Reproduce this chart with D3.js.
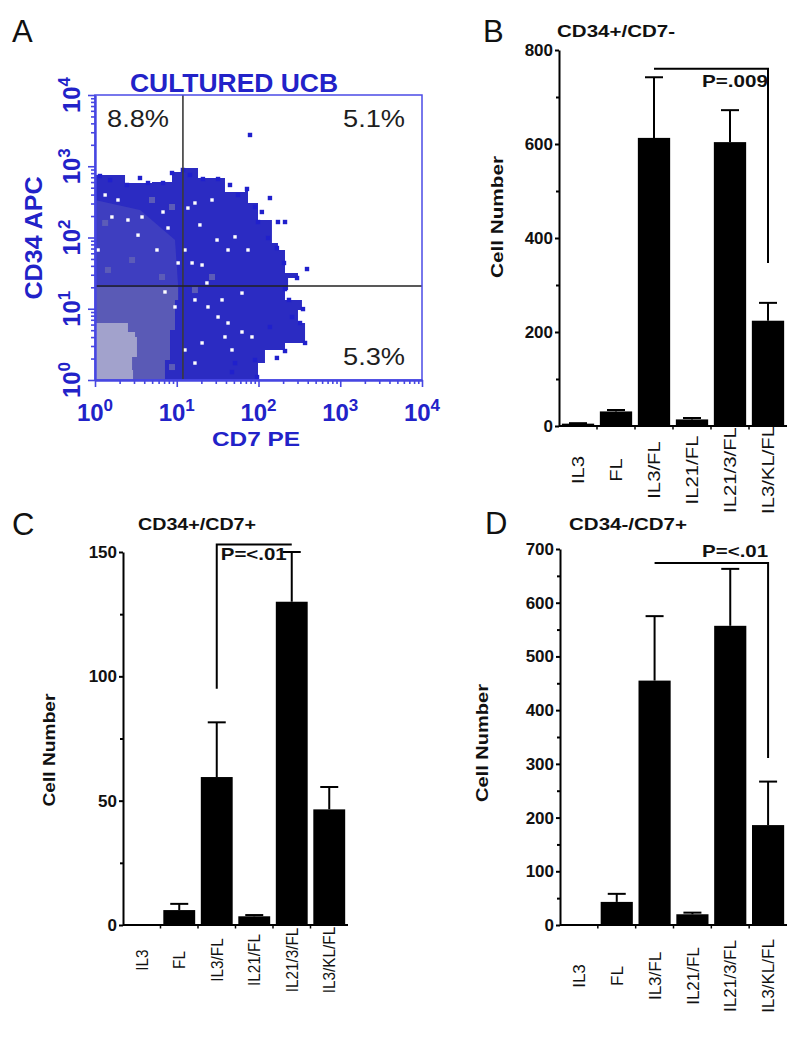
<!DOCTYPE html>
<html><head><meta charset="utf-8">
<script src="https://cdn.jsdelivr.net/npm/d3@7"></script>
<style>body{margin:0;background:#fff} svg{display:block}</style>
</head><body><svg id="c" width="800" height="1045"></svg>
<script>
// ---------------- DATA ----------------
// Panel A (flow cytometry, CD7 PE vs CD34 APC), values in fluorescence units
const flowDecades = [1, 10, 100, 1000, 10000];
const quadrantGate = [11.9, 20.9];           // CD7 gate, CD34 gate
const quadrantLabels = ["8.8%", "5.1%", "5.3%"];
const denseRegion = [[1,753],[2.33,582],[4.98,601],[8.75,830],[11.9,944],[18.2,684],[32,684],[38.9,435],[68.4,495],[74.4,305],[98.6,176],[146,160],[146,83.7],[173,66.8],[211,31.8],[304,27],[230,18.3],[211,13.3],[340,9.6],[304,6.3],[371,3.3],[211,2.64],[120,1.73],[98.6,1.1],[98.6,1],[1,1]];
const midOverlay = [[1,336],[3.55,243],[9.52,92.2],[10.4,20.9],[1,20.9]];
const midRegion = [[1,20.2],[7.18,20.2],[10.4,13.3],[9.52,5.03],[8.27,1.91],[7.18,1],[1,1]];
const coreRegion = [[1,6.31],[1.91,6.31],[2.53,4.72],[3.09,4.02],[3.26,2.1],[2.84,1.38],[2.92,1],[1,1]];
const outlierEvents = [[8.75,804],[11.9,886],[20.9,662],[32,662],[2.46,546],[4.45,582],[6.79,582],[72.3,480],[138,358],[98.6,165],[173,165],[211,165],[131,98.4],[168,71.2],[205,43.9],[392,36.1],[296,27],[211,18.9],[236,13.3],[350,9.9],[257,7.66],[322,6.31],[138,5.55],[371,3.31],[211,2.55],[168,2.04],[90.6,1.91],[51.6,1.73],[95.9,1.1],[47.4,1.29],[78.7,2748],[1.15,730],[1.53,641],[3.55,684],[14.5,753],[44.8,546],[56.1,395],[90.6,268],[110,228]];
const emptyBins = [[2.53,176],[3.36,108],[5.73,66.8],[12.6,66.8],[15.4,43.9],[20.4,41.1],[10.4,43.9],[7.18,17.2],[16.7,13.3],[24.1,10.6],[42.4,6.31],[62.8,4.72],[35.8,13.3],[1.09,66.8],[1.61,194],[27,336],[16.7,305],[51.6,102],[74.4,66.8],[12.6,2.64],[38.9,4.02],[7.82,136],[1.33,395],[1.91,336],[3.76,194],[6.79,228],[13.7,259],[19.2,150],[31.1,92.2],[42.4,66.8],[23.4,23],[62.8,16.6],[32,7.66],[83.2,4.02],[20.4,3.31],[16.7,1.73],[47.4,2.64],[9.52,10.6]];
const midBins = [[1.44,35],[2.84,48.3],[6.6,27.9],[8.75,268],[1.33,160],[4.98,336],[16.7,18.3],[27,27.9],[2.33,9.6],[5.42,2.64],[8.75,1.52]];

// Bar panels
const categories = ["IL3", "FL", "IL3/FL", "IL21/FL", "IL21/3/FL", "IL3/KL/FL"];
const cd34posCd7negMean = [5, 31, 613, 14, 604, 224];
const cd34posCd7negSem  = [1, 3, 129, 3, 68, 38];
const cd34posCd7posMean = [0, 6, 59.5, 3.5, 130, 46.5];
const cd34posCd7posSem  = [0, 2.5, 22, 0.5, 20, 9];
const cd34negCd7posMean = [0, 43, 455, 20, 557, 186];
const cd34negCd7posSem  = [0, 15, 120, 3, 106, 81];
const ticksB = [0, 200, 400, 600, 800], minorB = [100, 300, 500, 700];
const ticksC = [0, 50, 100, 150], minorC = [25, 75, 125];
const ticksD = [0, 100, 200, 300, 400, 500, 600, 700], minorD = [50, 150, 250, 350, 450, 550, 650];
const sigPairB = ["IL3/FL", "IL3/KL/FL"], sigLevelsB = [760, 760, 347], pTextB = "P=.009", pLevelB = 721;
const sigPairC = ["IL3/FL", "IL21/3/FL"], sigLevelsC = [95, 153, 153], pTextC = "P=<.01", pLevelC = 146.8;
const sigPairD = ["IL3/FL", "IL3/KL/FL"], sigLevelsD = [674, 674, 311], pTextD = "P=<.01", pLevelD = 686;

// ---------------- DRAWING ----------------
const FONT = '"Liberation Sans", Arial, Helvetica, sans-serif';
const BLUE = "#2222c8";
const svg = d3.select("#c");

// panel letters
[["A",12,42],["B",483,42],["C",12,535],["D",485,534]].forEach(([t,x,y]) => {
  svg.append("text").attr("x",x).attr("y",y).text(t)
    .attr("font-family",FONT).attr("font-size",31).attr("fill","#111");
});

// ---------- Panel A ----------
(function(){
  const ax = d3.scaleLog().domain([1,1e4]).range([95,422]);
  const ay = d3.scaleLog().domain([1,1e4]).range([380,95]);
  const g = svg.append("g");
  g.append("clipPath").attr("id","clipA").append("rect")
    .attr("x",95).attr("y",95).attr("width",327).attr("height",285);
  const plot = g.append("g").attr("clip-path","url(#clipA)");
  const step = d3.line().x(d=>ax(d[0])).y(d=>ay(d[1])).curve(d3.curveStepAfter);
  const line = d3.line().x(d=>ax(d[0])).y(d=>ay(d[1]));
  plot.append("path").attr("d", step(denseRegion)+"Z").attr("fill","#2b2bc2");
  plot.append("path").attr("d", line(midOverlay)+"Z").attr("fill","#7070bb").attr("opacity",0.28);
  plot.selectAll("rect.mid").data(midBins).join("rect").attr("class","mid")
    .attr("x",d=>ax(d[0])-3).attr("y",d=>ay(d[1])-3).attr("width",6).attr("height",6).attr("fill","#5c5cb8");
  plot.append("path").attr("d", step(midRegion)+"Z").attr("fill","#5a5ab6");
  plot.append("path").attr("d", step(coreRegion)+"Z").attr("fill","#a2a2cc");
  plot.selectAll("rect.gap").data(emptyBins).join("rect").attr("class","gap")
    .attr("x",d=>ax(d[0])-1.7).attr("y",d=>ay(d[1])-1.7).attr("width",3.4).attr("height",3.4).attr("fill","#fff");
  plot.selectAll("rect.ev").data(outlierEvents).join("rect").attr("class","ev")
    .attr("x",d=>ax(d[0])-2.2).attr("y",d=>ay(d[1])-2.2).attr("width",4.4).attr("height",4.4).attr("fill","#2020cc");
  // quadrant lines
  g.append("line").attr("x1",ax(quadrantGate[0])).attr("x2",ax(quadrantGate[0]))
    .attr("y1",ay(1e4)).attr("y2",ay(1)).attr("stroke","#3a3a3a").attr("stroke-width",1.6);
  g.append("line").attr("x1",ax(1)).attr("x2",ax(1e4))
    .attr("y1",ay(quadrantGate[1])).attr("y2",ay(quadrantGate[1])).attr("stroke","#222").attr("stroke-width",1.6);
  // box
  g.append("rect").attr("x",95).attr("y",95).attr("width",327).attr("height",285)
    .attr("fill","none").attr("stroke","#4b4be6").attr("stroke-width",1.5);
  // axes
  const xa = g.append("g").attr("transform","translate(0,380)");
  xa.call(d3.axisBottom(ax).tickValues(flowDecades).tickSize(7).tickSizeOuter(0).tickFormat(""));
  xa.call(g2=>g2.append("g").call(d3.axisBottom(ax).tickValues(ax.ticks().filter(v=>!flowDecades.includes(v))).tickSize(4).tickFormat("")).select(".domain").remove());
  xa.selectAll("path,line").attr("stroke","#4646e2").attr("stroke-width",1.6);
  xa.select(".domain").attr("stroke-width",2.4);
  const ya = g.append("g").attr("transform","translate(95,0)");
  ya.call(d3.axisLeft(ay).tickValues(flowDecades).tickSize(7).tickSizeOuter(0).tickFormat(""));
  ya.call(g2=>g2.append("g").call(d3.axisLeft(ay).tickValues(ay.ticks().filter(v=>!flowDecades.includes(v))).tickSize(4).tickFormat("")).select(".domain").remove());
  ya.selectAll("path,line").attr("stroke","#4646e2").attr("stroke-width",1.6);
  ya.select(".domain").attr("stroke-width",2.4);
  // tick labels
  flowDecades.forEach(v => {
    const e = Math.round(Math.log10(v));
    const t = g.append("text").attr("x",ax(v)).attr("y",421).attr("text-anchor","middle")
      .attr("font-family",FONT).attr("font-weight","bold").attr("font-size",24).attr("fill",BLUE);
    t.append("tspan").text("10");
    t.append("tspan").attr("dy",-10).attr("font-size",17).text(e);
    const t2 = g.append("text").attr("transform",`translate(80,${ay(v)}) rotate(-90)`).attr("text-anchor","middle")
      .attr("font-family",FONT).attr("font-weight","bold").attr("font-size",24).attr("fill",BLUE);
    t2.append("tspan").text("10");
    t2.append("tspan").attr("dy",-10).attr("font-size",17).text(e);
  });
  g.append("text").attr("x",256).attr("y",446).attr("text-anchor","middle").text("CD7 PE")
    .attr("font-family",FONT).attr("font-weight","bold").attr("font-size",21).attr("fill",BLUE)
    .attr("textLength",88).attr("lengthAdjust","spacingAndGlyphs");
  g.append("text").attr("transform","translate(42,238) rotate(-90)").attr("text-anchor","middle").text("CD34 APC")
    .attr("font-family",FONT).attr("font-weight","bold").attr("font-size",23).attr("fill",BLUE)
    .attr("textLength",123).attr("lengthAdjust","spacingAndGlyphs");
  g.append("text").attr("x",234).attr("y",92).attr("text-anchor","middle").text("CULTURED UCB")
    .attr("font-family",FONT).attr("font-weight","bold").attr("font-size",25).attr("fill",BLUE)
    .attr("textLength",208).attr("lengthAdjust","spacingAndGlyphs");
  [[107,127],[343,127],[343,365]].forEach(([x,y],i) => {
    g.append("text").attr("x",x).attr("y",y).text(quadrantLabels[i])
      .attr("font-family",FONT).attr("font-size",24).attr("fill","#1e1e1e")
      .attr("textLength",62).attr("lengthAdjust","spacingAndGlyphs");
  });
})();

// ---------- Bar panels ----------
function barPanel(p) {
  const x = d3.scaleBand().domain(categories).range([p.x0,p.x1]).paddingInner(0.15).paddingOuter(0.075);
  const y = d3.scaleLinear().domain([0,p.max]).range([p.yb,p.yt]);
  const g = svg.append("g");
  const cx = c => x(c) + x.bandwidth()/2;
  g.selectAll("rect.bar").data(p.means).join("rect").attr("class","bar")
    .attr("x",(d,i)=>x(categories[i])).attr("width",x.bandwidth())
    .attr("y",d=>y(d)).attr("height",d=>y(0)-y(d)).attr("fill","#000");
  const eb = g.selectAll("g.eb").data(p.means.map((m,i)=>({m,e:p.sems[i],c:categories[i]})).filter(d=>d.m>0)).join("g");
  eb.append("line").attr("x1",d=>cx(d.c)).attr("x2",d=>cx(d.c)).attr("y1",d=>y(d.m)).attr("y2",d=>y(d.m+d.e))
    .attr("stroke","#000").attr("stroke-width",2);
  eb.append("line").attr("x1",d=>cx(d.c)-9).attr("x2",d=>cx(d.c)+9).attr("y1",d=>y(d.m+d.e)).attr("y2",d=>y(d.m+d.e))
    .attr("stroke","#000").attr("stroke-width",2);
  // y axis
  const ya = g.append("g").attr("transform",`translate(${p.x0},0)`)
    .call(d3.axisLeft(y).tickValues(p.ticks).tickSize(4).tickSizeOuter(0).tickPadding(2).tickFormat(d3.format("d")));
  ya.call(g2=>g2.append("g").call(d3.axisLeft(y).tickValues(p.minor).tickSize(3).tickFormat("")).select(".domain").remove());
  ya.selectAll("path,line").attr("stroke","#000").attr("stroke-width",2);
  ya.selectAll("text").attr("font-family",FONT).attr("font-weight","bold").attr("font-size",17).attr("fill","#111");
  // x axis
  g.append("line").attr("x1",p.x0).attr("x2",p.x1).attr("y1",y(0)).attr("y2",y(0)).attr("stroke","#000").attr("stroke-width",2);
  const st = x.step();
  g.selectAll("line.bt").data(categories.slice(1)).join("line").attr("class","bt")
    .attr("x1",c=>x(c)-st*0.075).attr("x2",c=>x(c)-st*0.075).attr("y1",y(0)).attr("y2",y(0)+3.5)
    .attr("stroke","#000").attr("stroke-width",1.5);
  // category labels
  categories.forEach(c => {
    g.append("text").attr("transform",`translate(${cx(c)},${p.labY}) scale(1,${p.labSy}) rotate(-90)`)
      .attr("text-anchor","middle").attr("dy","0.36em").text(c)
      .attr("font-family",FONT).attr("font-size",p.labFs).attr("fill","#111");
  });
  // axis title & panel title
  g.append("text").attr("transform",`translate(${p.ylabX},${p.ylabY}) rotate(-90)`).attr("text-anchor","middle").text("Cell Number")
    .attr("font-family",FONT).attr("font-weight","bold").attr("font-size",17).attr("fill","#111")
    .attr("textLength",p.ylabLen).attr("lengthAdjust","spacingAndGlyphs");
  g.append("text").attr("x",p.titleX).attr("y",p.titleY).text(p.title)
    .attr("font-family",FONT).attr("font-weight","bold").attr("font-size",16).attr("fill","#111")
    .attr("textLength",118).attr("lengthAdjust","spacingAndGlyphs");
  // significance bracket
  const [a,b] = p.sig, [l0,top,r0] = p.sigLevels;
  const path = d3.path();
  path.moveTo(cx(a), y(l0)); path.lineTo(cx(a), y(top)); path.lineTo(cx(b), y(top)); path.lineTo(cx(b), y(r0));
  g.append("path").attr("d",path.toString()).attr("fill","none").attr("stroke","#000").attr("stroke-width",2);
  const tx = p.pAnchor === "end" ? cx(b) : cx(a) + 4;
  g.append("text").attr("x",tx).attr("y",y(p.pLevel)).attr("text-anchor",p.pAnchor).text(p.pText)
    .attr("font-family",FONT).attr("font-weight","bold").attr("font-size",17).attr("fill","#111")
    .attr("textLength",66).attr("lengthAdjust","spacingAndGlyphs");
}

barPanel({x0:559,x1:787,yt:50,yb:426,max:800,means:cd34posCd7negMean,sems:cd34posCd7negSem,ticks:ticksB,minor:minorB,
  labY:470,labSy:1.27,labFs:16,ylabX:503,ylabY:217,ylabLen:122,title:"CD34+/CD7-",titleX:557,titleY:37,
  sig:sigPairB,sigLevels:sigLevelsB,pText:pTextB,pLevel:pLevelB,pAnchor:"end"});
barPanel({x0:123,x1:348,yt:552,yb:925,max:150,means:cd34posCd7posMean,sems:cd34posCd7posSem,ticks:ticksC,minor:minorC,
  labY:960,labSy:0.9,labFs:17,ylabX:55,ylabY:750,ylabLen:113,title:"CD34+/CD7+",titleX:138,titleY:530,
  sig:sigPairC,sigLevels:sigLevelsC,pText:pTextC,pLevel:pLevelC,pAnchor:"start"});
barPanel({x0:560,x1:787,yt:549,yb:925,max:700,means:cd34negCd7posMean,sems:cd34negCd7posSem,ticks:ticksD,minor:minorD,
  labY:976,labSy:1.0,labFs:17,ylabX:488,ylabY:743,ylabLen:118,title:"CD34-/CD7+",titleX:569,titleY:530,
  sig:sigPairD,sigLevels:sigLevelsD,pText:pTextD,pLevel:pLevelD,pAnchor:"end"});
</script>
</body></html>
